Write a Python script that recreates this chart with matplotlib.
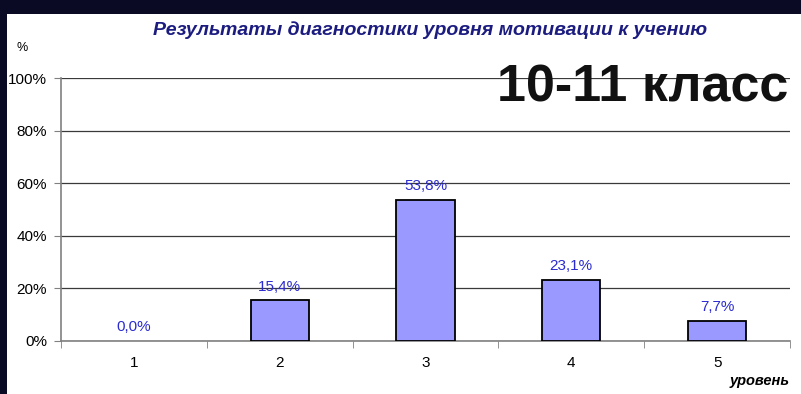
import matplotlib.pyplot as plt
from matplotlib.patches import Rectangle
import numpy as np

# motivation level distribution, grades 10-11
levels = ['1', '2', '3', '4', '5']
shares = [0.0, 15.4, 53.8, 23.1, 7.7]
yticks = [0, 20, 40, 60, 80, 100]

plt.rcParams['font.family'] = ['Liberation Sans', 'DejaVu Sans']

fig = plt.figure(figsize=(8.01, 3.94), dpi=100, facecolor='#0a0a24')
W, H = 801, 394

# white slide panel inside the dark frame
fig.patches.append(Rectangle((7 / W, 0), 1 - 7 / W, (H - 14) / H,
                             transform=fig.transFigure, facecolor='white',
                             edgecolor='none', zorder=0))

ax = fig.add_axes([61 / W, (H - 341) / H, (790 - 61) / W, (341 - 78) / H])
ax.set_facecolor('none')
ax.set_zorder(2)

x = np.arange(1, len(levels) + 1)
bars = ax.bar(x, shares, width=0.4, color='#9999ff', edgecolor='black',
              linewidth=1.3, zorder=3)
for b, v in zip(bars, shares):
    if v == 0:
        b.set_edgecolor('none')

for xi, v in zip(x, shares):
    ax.annotate(('%.1f%%' % v).replace('.', ','), (xi, v),
                xytext=(0, 10), textcoords='offset points',
                ha='center', va='center', fontsize=11, color='#2b2bd0',
                zorder=4)

ax.set_xlim(0.5, len(levels) + 0.5)
ax.set_ylim(0, 100)
ax.set_yticks(yticks)
ax.set_yticklabels(['%d%%' % t for t in yticks], fontsize=11)
ax.set_xticks(x)
ax.set_xticklabels(levels, fontsize=11)
ax.set_xticks(np.arange(0.5, len(levels) + 1, 1), minor=True)
ax.tick_params(axis='x', which='major', length=0, pad=11)
ax.tick_params(axis='x', which='minor', length=5, color='#808080', direction='out')
ax.tick_params(axis='y', length=5, color='#808080', pad=5)

ax.grid(axis='y', color='#3a3a3a', linewidth=0.9, zorder=1)
for side in ('top', 'right'):
    ax.spines[side].set_visible(False)
for side in ('left', 'bottom'):
    ax.spines[side].set_color('#808080')
    ax.spines[side].set_linewidth(1.2)

fig.text(430 / W, 1 - 30 / H,
         'Результаты диагностики уровня мотивации к учению',
         ha='center', va='center', fontsize=14, fontweight='bold',
         fontstyle='italic', color='#1c1c80')
fig.text(22 / W, 1 - 48 / H, '%', ha='center', va='center', fontsize=9)
fig.text(790 / W, 1 - 381 / H, 'уровень', ha='right', va='center',
         fontsize=10.5, fontweight='bold', fontstyle='italic')
fig.text(788 / W, 1 - 102 / H, '10-11 класс', ha='right', va='baseline',
         fontsize=37.5, fontweight='bold', color='#111111', zorder=5)

fig.savefig('out.png', dpi=100, facecolor=fig.get_facecolor())
